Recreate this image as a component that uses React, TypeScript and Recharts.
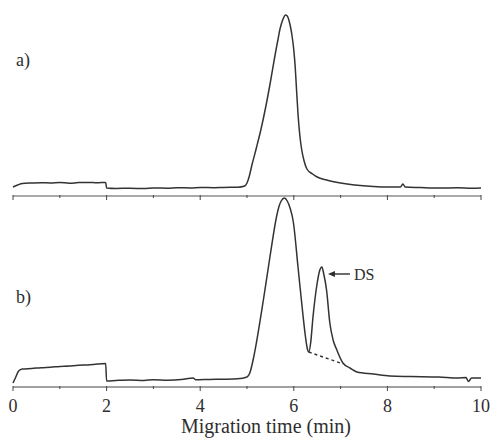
import React from 'react';
import { LineChart, Line, XAxis, YAxis, ReferenceLine, Label } from 'recharts';

// migration time (min) and detector signal (arbitrary units)
const traceA: [number, number][] = [
  [0, 9], [0.1, 11], [0.2, 12.5], [0.4, 13], [0.6, 13.3], [0.8, 13], [1.0, 13.5],
  [1.2, 12.8], [1.4, 13.4], [1.6, 13.6], [1.8, 13.2], [1.98, 13.6], [2.0, 8],
  [2.2, 7.5], [2.5, 7.8], [2.8, 7.4], [3.0, 8], [3.3, 7.8], [3.5, 8.3], [3.8, 8.1],
  [4.0, 8.5], [4.3, 8.3], [4.5, 8.6], [4.8, 8.8], [4.95, 10], [5.0, 13], [5.05, 20],
  [5.1, 30], [5.2, 48], [5.3, 67], [5.4, 89], [5.5, 114], [5.6, 141], [5.66, 156],
  [5.7, 166], [5.74, 173], [5.78, 178], [5.82, 181], [5.86, 180], [5.9, 175],
  [5.93, 169], [5.96, 161], [6.0, 146], [6.03, 129], [6.06, 105], [6.09, 82],
  [6.13, 60], [6.17, 46], [6.22, 35], [6.28, 27], [6.4, 22], [6.5, 19], [6.7, 16],
  [7.0, 13], [7.3, 11], [7.7, 9.5], [8.0, 9], [8.28, 9], [8.33, 12], [8.38, 9],
  [8.7, 8.5], [9.1, 8], [9.5, 8.2], [9.8, 7.8], [10, 8],
];

const traceB: [number, number][] = [
  [0, 4], [0.05, 9], [0.12, 16], [0.2, 18], [0.4, 18.5], [0.6, 19.3], [0.8, 19.8],
  [1.0, 20.5], [1.2, 21], [1.4, 21.8], [1.6, 22], [1.8, 23], [1.98, 23.5], [2.0, 6],
  [2.2, 6.5], [2.5, 7], [2.8, 6.6], [3.0, 7.2], [3.3, 6.8], [3.6, 7.4], [3.85, 9],
  [3.9, 7.3], [4.2, 7.6], [4.5, 7.8], [4.8, 8.2], [5.0, 10], [5.06, 14], [5.13, 27],
  [5.2, 44], [5.35, 87], [5.49, 130], [5.63, 170], [5.68, 180], [5.73, 186],
  [5.8, 189], [5.86, 186], [5.92, 179], [5.99, 165], [6.09, 120], [6.2, 70],
  [6.25, 50], [6.29, 38], [6.32, 35], [6.36, 44], [6.41, 70], [6.5, 104],
  [6.55, 116], [6.6, 120], [6.64, 113], [6.7, 97], [6.77, 64], [6.84, 47],
  [6.92, 37], [7.05, 24], [7.2, 19], [7.35, 15], [7.7, 13], [8.05, 11], [8.5, 10.5],
  [9.1, 10], [9.5, 9], [9.68, 9.5], [9.73, 5.5], [9.8, 9], [10, 9],
];

// baseline drawn under the DS peak
const baselineB: [number, number][] = [[6.32, 35], [7.05, 23]];

// arrow pointing at the DS peak
const dsArrow: [number, number][] = [[6.73, 113], [7.2, 113]];

const timeTicks = [0, 1, 2, 3, 4, 5, 6, 7, 8, 9, 10];

const toRows = (pts: [number, number][]) => pts.map(([t, v]) => ({ t, v }));

const serif = '"Liberation Serif", "DejaVu Serif", serif';
const ink = '#2e2e2e';

const AxisTick = (props: any) => {
  const { x, y, payload, showLabel } = props;
  const major = payload.value % 2 === 0;
  return (
    <g>
      <line x1={x} y1={y - 1} x2={x} y2={y + (major ? 4 : 2)} stroke="#444" strokeWidth={1} />
      {showLabel && major && (
        <text x={x} y={y + 25} textAnchor="middle" fontSize={18} fill={ink} fontFamily={serif}>
          {payload.value}
        </text>
      )}
    </g>
  );
};

const DsArrow = (props: any) => {
  const { x1, y1, x2 } = props;
  return (
    <g>
      <line x1={x1 + 5} y1={y1} x2={x2} y2={y1} stroke={ink} strokeWidth={1.4} />
      <polygon points={`${x1},${y1} ${x1 + 7},${y1 - 3} ${x1 + 7},${y1 + 3}`} fill={ink} />
      <text x={x2 + 4} y={y1 + 6} fontSize={16} fill={ink} fontFamily={serif}>DS</text>
    </g>
  );
};

const panelLabel = (top: number): React.CSSProperties => ({
  position: 'absolute',
  left: 16,
  top,
  fontSize: 18,
  lineHeight: '18px',
  color: ink,
  fontFamily: serif,
});

export default function App() {
  const rowsA = toRows(traceA);
  const rowsB = toRows(traceB);
  const rowsBase = toRows(baselineB);
  const arrow = dsArrow.map(([x, y]) => ({ x, y }));

  return (
    <div style={{ position: 'absolute', left: 0, top: 0, width: 492, height: 440, background: '#fff', fontFamily: serif }}>
      <div style={{ position: 'absolute', left: 0, top: 0 }}>
        <LineChart width={492} height={210} data={rowsA} margin={{ top: 10, right: 11, left: 13, bottom: 0 }}>
          <XAxis
            dataKey="t"
            type="number"
            domain={[0, 10]}
            ticks={timeTicks}
            interval={0}
            height={14}
            tickSize={0}
            tickMargin={0}
            tickLine={false}
            axisLine={{ stroke: '#555', strokeWidth: 1.2 }}
            tick={(p: any) => <AxisTick {...p} showLabel={false} />}
          />
          <YAxis hide domain={[0, 186]} />
          <Line type="monotone" dataKey="v" stroke="#333" strokeWidth={1.5} dot={false} isAnimationActive={false} />
        </LineChart>
      </div>

      <div style={{ position: 'absolute', left: 0, top: 190 }}>
        <LineChart width={492} height={250} data={rowsB} margin={{ top: 7, right: 11, left: 13, bottom: 0 }}>
          <XAxis
            dataKey="t"
            type="number"
            domain={[0, 10]}
            ticks={timeTicks}
            interval={0}
            height={53}
            tickSize={0}
            tickMargin={0}
            tickLine={false}
            axisLine={{ stroke: '#444', strokeWidth: 1.2 }}
            tick={(p: any) => <AxisTick {...p} showLabel />}
          >
            <Label
              value="Migration time (min)"
              position="insideBottom"
              offset={7}
              dx={19}
              style={{ fontSize: 20, fill: ink, fontFamily: serif }}
            />
          </XAxis>
          <YAxis hide domain={[0, 190]} />
          <Line type="monotone" dataKey="v" stroke="#333" strokeWidth={1.5} dot={false} isAnimationActive={false} />
          <Line
            data={rowsBase}
            type="linear"
            dataKey="v"
            stroke="#333"
            strokeWidth={1.4}
            strokeDasharray="3 3"
            dot={false}
            isAnimationActive={false}
          />
          <ReferenceLine segment={arrow} shape={(p: any) => <DsArrow {...p} />} />
        </LineChart>
      </div>

      <div style={panelLabel(51)}>a)</div>
      <div style={panelLabel(288)}>b)</div>
    </div>
  );
}
